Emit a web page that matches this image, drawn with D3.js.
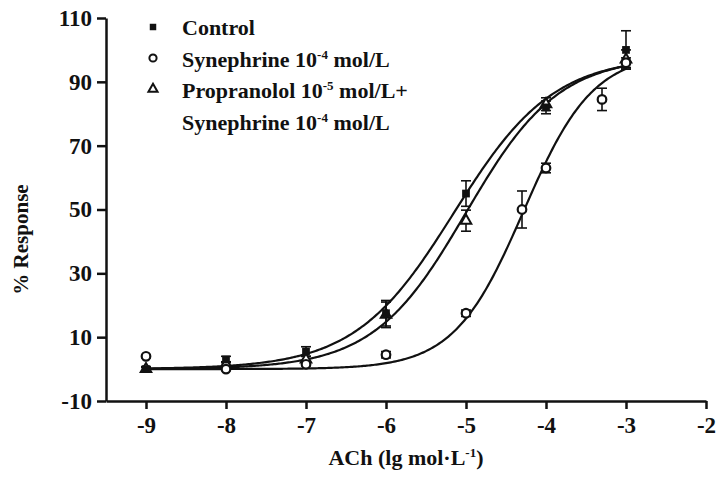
<!DOCTYPE html>
<html>
<head>
<meta charset="utf-8">
<script src="https://cdn.jsdelivr.net/npm/d3@7"></script>
<style>
  body { margin: 0; background: #fff; }
  text { font-family: "Liberation Serif", "DejaVu Serif", serif; font-weight: bold; fill: #111; }
</style>
</head>
<body>
<script>
// doses (lg mol/L) and mean % response
var controlX = [-9, -8, -7, -6, -5, -4, -3];
var controlY = [0, 3, 5.5, 17.5, 55, 82, 100];
var controlErr = [0.8, 1, 1.5, 4, 4, 2, 6];

var synX = [-9, -8, -7, -6, -5, -4.3, -4, -3.3, -3];
var synY = [4, 0, 1.5, 4.5, 17.5, 50, 63, 84.5, 96];
var synErr = [0.5, 0.5, 0.5, 1, 1, 5.8, 1.5, 3.5, 1.5];

var propX = [-9, -8, -7, -6, -5, -4, -3];
var propY = [0, 1.5, 3, 17, 46.5, 83, 97];
var propErr = [0.5, 0.8, 1, 4, 3.3, 2, 3];

// fitted sigmoid params: bottom, top, logEC50, hill
var controlFit = [0, 98, -5.15, 0.7];
var synFit = [0, 99, -4.28, 1.0];
var propFit = [0, 98, -5.0, 0.75];

var xTicks = [-9, -8, -7, -6, -5, -4, -3, -2];
var yTicks = [-10, 10, 30, 50, 70, 90, 110];

//set margin and size variables
var margin = {top: 18, right: 10, bottom: 85, left: 106},
    width = 706 - margin.left,
    height = 401 - margin.top;

var x = d3.scaleLinear().domain([-9.5, -2]).range([0, width]);
var y = d3.scaleLinear().domain([-10, 110]).range([height, 0]);

var svg = d3.select("body").append("svg")
    .attr("width", 716)
    .attr("height", 486)
    .append("g")
    .attr("transform", "translate(" + margin.left + "," + margin.top + ")");

//x axis
var xAxis = svg.append("g")
    .attr("transform", "translate(0," + height + ")")
    .call(d3.axisBottom(x).tickValues(xTicks).tickSize(8).tickSizeOuter(0));
xAxis.select(".domain").attr("stroke", "#111").attr("stroke-width", 2.5);
xAxis.selectAll(".tick line").attr("stroke", "#111").attr("stroke-width", 2.5);
xAxis.selectAll(".tick text")
    .attr("y", 16)
    .style("font-size", "23px")
    .style("font-family", "Liberation Serif")
    .attr("fill", "#111")
    .text(d => d < 0 ? "-" + Math.abs(d) : d);

//y axis
var yAxis = svg.append("g")
    .call(d3.axisLeft(y).tickValues(yTicks).tickSize(9).tickSizeOuter(0));
yAxis.select(".domain").attr("stroke", "#111").attr("stroke-width", 2.5);
yAxis.selectAll(".tick line").attr("stroke", "#111").attr("stroke-width", 2.5);
yAxis.selectAll(".tick text")
    .attr("x", -14)
    .style("font-size", "23px")
    .style("font-family", "Liberation Serif")
    .attr("fill", "#111")
    .text(d => d < 0 ? "-" + Math.abs(d) : d);

//axis titles
svg.append("text")
    .attr("x", width / 2)
    .attr("y", height + 64)
    .attr("text-anchor", "middle")
    .style("font-size", "22px")
    .html('ACh (lg mol·L<tspan dy="-8" font-size="13px">-1</tspan><tspan dy="8">)</tspan>');

svg.append("text")
    .attr("transform", "translate(" + (-78) + "," + (height / 2 + 30) + ") rotate(-90)")
    .attr("text-anchor", "middle")
    .style("font-size", "21px")
    .text("% Response");

//sigmoid curve
function sigmoid(p, v) {
    return p[0] + (p[1] - p[0]) / (1 + Math.pow(10, (p[2] - v) * p[3]));
}

var fits = [propFit, synFit, controlFit];
var curveX = d3.range(-9, -2.999, 0.02);
fits.forEach(p => {
    svg.append("path")
        .datum(curveX)
        .attr("fill", "none")
        .attr("stroke", "#111")
        .attr("stroke-width", 2.2)
        .attr("d", d3.line().x(d => x(d)).y(d => y(sigmoid(p, d))));
});

//error bars
function errorBars(xs, ys, es) {
    var g = svg.append("g");
    xs.forEach((v, i) => {
        var cx = x(v), top = y(ys[i] + es[i]), bot = y(ys[i] - es[i]);
        g.append("line").attr("x1", cx).attr("x2", cx).attr("y1", top).attr("y2", bot)
            .attr("stroke", "#111").attr("stroke-width", 1.6);
        g.append("line").attr("x1", cx - 5).attr("x2", cx + 5).attr("y1", top).attr("y2", top)
            .attr("stroke", "#111").attr("stroke-width", 1.6);
        g.append("line").attr("x1", cx - 5).attr("x2", cx + 5).attr("y1", bot).attr("y2", bot)
            .attr("stroke", "#111").attr("stroke-width", 1.6);
    });
}
errorBars(propX, propY, propErr);
errorBars(synX, synY, synErr);
errorBars(controlX, controlY, controlErr);

var tri = d3.symbol().type(d3.symbolTriangle).size(48);
var sq = d3.symbol().type(d3.symbolSquare).size(60);

//triangles
svg.selectAll(".tri")
    .data(propX)
    .enter().append("path")
    .attr("d", tri)
    .attr("transform", (d, i) => "translate(" + x(d) + "," + y(propY[i]) + ")")
    .attr("fill", "#fff")
    .attr("stroke", "#111")
    .attr("stroke-width", 2);

//circles
svg.selectAll(".circ")
    .data(synX)
    .enter().append("circle")
    .attr("r", 4.3)
    .attr("cx", d => x(d))
    .attr("cy", (d, i) => y(synY[i]))
    .attr("fill", "#fff")
    .attr("stroke", "#111")
    .attr("stroke-width", 2.2);

//squares
svg.selectAll(".sq")
    .data(controlX)
    .enter().append("path")
    .attr("d", sq)
    .attr("transform", (d, i) => "translate(" + x(d) + "," + y(controlY[i]) + ")")
    .attr("fill", "#111");

//legend
var legend = svg.append("g").attr("transform", "translate(" + (-margin.left) + "," + (-margin.top) + ")");
legend.append("path").attr("d", d3.symbol().type(d3.symbolSquare).size(42))
    .attr("transform", "translate(153,27)").attr("fill", "#111");
legend.append("circle").attr("cx", 153).attr("cy", 58).attr("r", 3.6)
    .attr("fill", "#fff").attr("stroke", "#111").attr("stroke-width", 2);
legend.append("path").attr("d", d3.symbol().type(d3.symbolTriangle).size(36))
    .attr("transform", "translate(153,89)").attr("fill", "#fff").attr("stroke", "#111").attr("stroke-width", 2);

var legendRows = [
    'Control',
    'Synephrine 10<tspan dy="-8" font-size="13px">-4</tspan><tspan dy="8"> mol/L</tspan>',
    'Propranolol 10<tspan dy="-8" font-size="13px">-5</tspan><tspan dy="8"> mol/L+</tspan>',
    'Synephrine 10<tspan dy="-8" font-size="13px">-4</tspan><tspan dy="8"> mol/L</tspan>'
];
legendRows.forEach((t, i) => {
    legend.append("text")
        .attr("x", 182)
        .attr("y", 35 + i * 31.5)
        .style("font-size", "22px")
        .html(t);
});
</script>
</body>
</html>
